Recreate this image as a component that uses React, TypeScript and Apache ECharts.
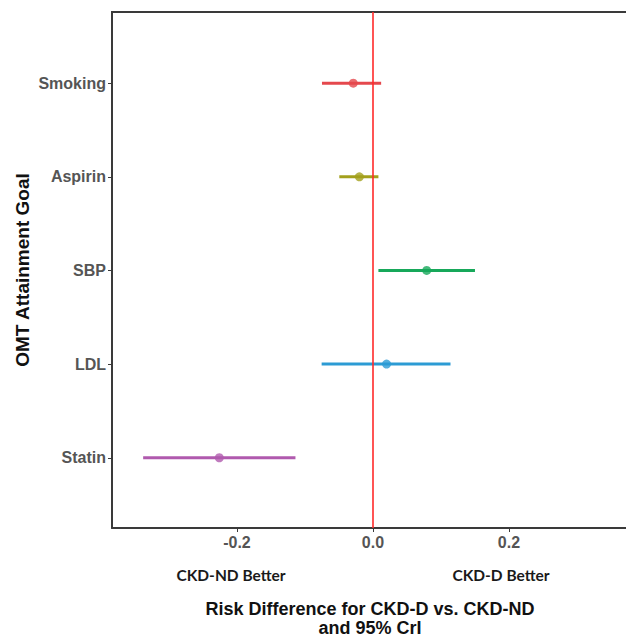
import React, { useEffect, useRef } from "react";
import * as echarts from "echarts";

const categories = ["Statin", "LDL", "SBP", "Aspirin", "Smoking"];
const estimates = [-0.226, 0.02, 0.079, -0.02, -0.029];
const lowers = [-0.338, -0.0755, 0.008, -0.0495, -0.075];
const uppers = [-0.114, 0.114, 0.15, 0.008, 0.012];
const colors = ["#b05aae", "#2c9bd4", "#17a85a", "#a3a01c", "#e5484d"];
const xTicks = [-0.2, 0, 0.2];

export default function App() {
  const ref = useRef<HTMLDivElement>(null);
  useEffect(() => {
    if (!ref.current) return;
    const chart = echarts.init(ref.current, undefined, { renderer: "svg" });
    const series: any[] = [];
    categories.forEach((c, i) => {
      const y = i + 1;
      series.push({
        type: "line",
        name: c + " CrI",
        data: [
          [lowers[i], y],
          [uppers[i], y],
        ],
        showSymbol: false,
        symbol: "none",
        lineStyle: { color: colors[i], width: 3 },
        silent: true,
        z: 3,
      });
      series.push({
        type: "scatter",
        name: c,
        data: [[estimates[i], y]],
        symbol: "circle",
        symbolSize: 9,
        itemStyle: { color: colors[i] },
        silent: true,
        z: 4,
      });
    });
    series.push({
      type: "line",
      name: "ref",
      data: [],
      markLine: {
        silent: true,
        symbol: "none",
        label: { show: false },
        lineStyle: { color: "#ff2a2a", width: 1.6, type: "solid" },
        data: [{ xAxis: 0 }],
      },
      z: 2,
    });
    const axisFont = {
      fontFamily: "Liberation Sans, Arial, sans-serif",
      fontWeight: "bold" as const,
      fontSize: 16,
      color: "#555555",
    };
    chart.setOption({
      animation: false,
      backgroundColor: "#ffffff",
      grid: { left: 112, right: 0, top: 12, bottom: 111, containLabel: false },
      xAxis: {
        type: "value",
        min: -0.3838,
        max: 0.3721,
        splitLine: { show: false },
        axisLine: { show: true, onZero: false, lineStyle: { color: "#3a3a3a", width: 2 } },
        axisTick: {
          show: true,
          length: 4,
          customValues: xTicks,
          lineStyle: { color: "#3a3a3a", width: 1 },
        },
        axisLabel: {
          ...axisFont,
          margin: 6,
          customValues: xTicks,
          formatter: (v: number) => v.toFixed(1),
        },
      },
      yAxis: {
        type: "value",
        min: 0.25,
        max: 5.76,
        splitLine: { show: false },
        axisLine: { show: true, onZero: false, lineStyle: { color: "#3a3a3a", width: 2 } },
        axisTick: {
          show: true,
          length: 4,
          customValues: [1, 2, 3, 4, 5],
          lineStyle: { color: "#3a3a3a", width: 1 },
        },
        axisLabel: {
          ...axisFont,
          margin: 6,
          customValues: [1, 2, 3, 4, 5],
          formatter: (v: number) => categories[Math.round(v) - 1] ?? "",
        },
      },
      graphic: [
        {
          type: "line",
          shape: { x1: 111, y1: 12, x2: 626, y2: 12 },
          style: { stroke: "#3a3a3a", lineWidth: 2 },
          silent: true,
        },
        {
          type: "text",
          x: 22,
          y: 270,
          rotation: Math.PI / 2,
          style: {
            text: "OMT Attainment Goal",
            fontFamily: "Liberation Sans, Arial, sans-serif",
            fontWeight: "bold",
            fontSize: 19,
            fill: "#111111",
            align: "center",
            verticalAlign: "middle",
          },
        },
        {
          type: "text",
          x: 370,
          y: 618,
          style: {
            text: "Risk Difference for CKD-D vs. CKD-ND\nand 95% CrI",
            fontFamily: "Liberation Sans, Arial, sans-serif",
            fontWeight: "bold",
            fontSize: 18,
            lineHeight: 19,
            fill: "#111111",
            align: "center",
            verticalAlign: "middle",
          },
        },
        {
          type: "text",
          x: 231,
          y: 575,
          style: {
            text: "CKD-ND Better",
            fontFamily: "Lato, Open Sans, sans-serif",
            fontWeight: "bold",
            fontSize: 15.5,
            fill: "#1a1a1a",
            align: "center",
            verticalAlign: "middle",
          },
        },
        {
          type: "text",
          x: 501,
          y: 575,
          style: {
            text: "CKD-D Better",
            fontFamily: "Lato, Open Sans, sans-serif",
            fontWeight: "bold",
            fontSize: 15.5,
            fill: "#1a1a1a",
            align: "center",
            verticalAlign: "middle",
          },
        },
      ],
      series,
    });
    return () => chart.dispose();
  }, []);
  return (
    <div
      ref={ref}
      style={{ position: "fixed", left: 0, top: 0, width: 626, height: 639 }}
    />
  );
}
